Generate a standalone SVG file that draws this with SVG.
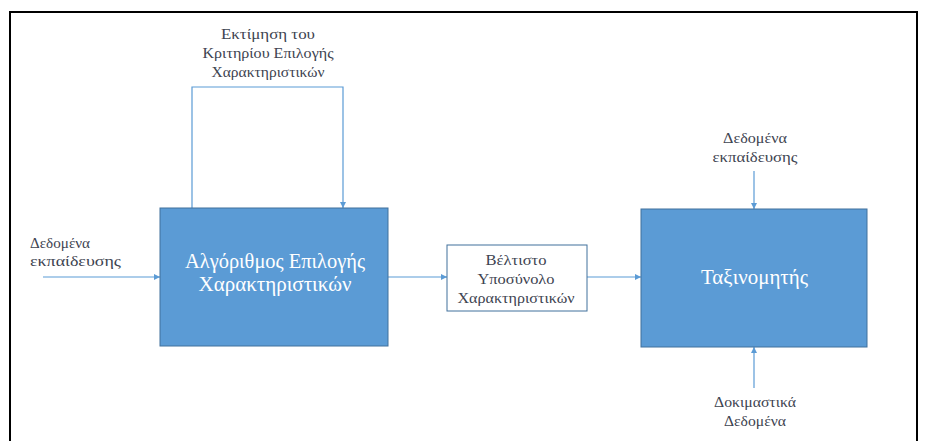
<svg xmlns="http://www.w3.org/2000/svg" width="925" height="441" viewBox="0 0 925 441">
  <defs>
    <marker id="arrow" viewBox="0 0 10 10" refX="10" refY="5" markerWidth="6" markerHeight="6" markerUnits="userSpaceOnUse" orient="auto">
      <path d="M0,0 L10,5 L0,10 Z" fill="#5b9bd5"/>
    </marker>
    <style>
      .label { font-family: "Liberation Serif", "DejaVu Serif", serif; font-size: 14.5px; fill: #3d4350; text-anchor: middle; }
      .big { font-family: "Liberation Serif", "DejaVu Serif", serif; font-size: 20px; fill: #ffffff; text-anchor: middle; }
      .start { text-anchor: start; }
      .block { fill: #5b9bd5; stroke: #41719c; stroke-width: 1; }
      .plain { fill: #ffffff; stroke: #41719c; stroke-width: 1; }
      .link { fill: none; stroke: #5b9bd5; stroke-width: 1.2; }
    </style>
  </defs>

  <rect width="925" height="441" fill="#ffffff"/>
  <!-- outer frame, open at the bottom -->
  <path d="M10,441 V12 H917 V441" fill="none" stroke="#000000" stroke-width="2"/>

  <g id="connectors">
    <path class="link" d="M43,277 H160" marker-end="url(#arrow)"/>
    <path class="link" d="M192,208 V87 H343 V208" marker-end="url(#arrow)"/>
    <path class="link" d="M388,277 H447" marker-end="url(#arrow)"/>
    <path class="link" d="M587,277 H641" marker-end="url(#arrow)"/>
    <path class="link" d="M754,171 V209" marker-end="url(#arrow)"/>
    <path class="link" d="M754,388 V347" marker-end="url(#arrow)"/>
  </g>

  <g id="input-train-left">
    <text class="label start" x="30" y="248" textLength="60" lengthAdjust="spacingAndGlyphs">Δεδομένα</text>
    <text class="label start" x="30" y="266" textLength="91" lengthAdjust="spacingAndGlyphs">εκπαίδευσης</text>
  </g>

  <g id="criterion">
    <text class="label" x="268" y="39" textLength="94" lengthAdjust="spacingAndGlyphs">Εκτίμηση του</text>
    <text class="label" x="268" y="58" textLength="131" lengthAdjust="spacingAndGlyphs">Κριτηρίου Επιλογής</text>
    <text class="label" x="268" y="77" textLength="113" lengthAdjust="spacingAndGlyphs">Χαρακτηριστικών</text>
  </g>

  <g id="selection-algorithm">
    <rect class="block" x="160" y="208" width="228" height="138"/>
    <text class="big" x="275" y="268" textLength="180" lengthAdjust="spacingAndGlyphs">Αλγόριθμος Επιλογής</text>
    <text class="big" x="275" y="291" textLength="153" lengthAdjust="spacingAndGlyphs">Χαρακτηριστικών</text>
  </g>

  <g id="best-subset">
    <rect class="plain" x="447" y="245" width="140" height="66"/>
    <text class="label" x="516" y="265" textLength="61" lengthAdjust="spacingAndGlyphs">Βέλτιστο</text>
    <text class="label" x="516" y="284" textLength="77" lengthAdjust="spacingAndGlyphs">Υποσύνολο</text>
    <text class="label" x="516" y="303" textLength="117" lengthAdjust="spacingAndGlyphs">Χαρακτηριστικών</text>
  </g>

  <g id="input-train-right">
    <text class="label" x="755" y="143" textLength="64" lengthAdjust="spacingAndGlyphs">Δεδομένα</text>
    <text class="label" x="755" y="162" textLength="85" lengthAdjust="spacingAndGlyphs">εκπαίδευσης</text>
  </g>

  <g id="classifier">
    <rect class="block" x="641" y="209" width="226" height="138"/>
    <text class="big" x="754.5" y="284" textLength="107" lengthAdjust="spacingAndGlyphs">Ταξινομητής</text>
  </g>

  <g id="input-test">
    <text class="label" x="755" y="407" textLength="82" lengthAdjust="spacingAndGlyphs">Δοκιμαστικά</text>
    <text class="label" x="755" y="426" textLength="62" lengthAdjust="spacingAndGlyphs">Δεδομένα</text>
  </g>
</svg>
